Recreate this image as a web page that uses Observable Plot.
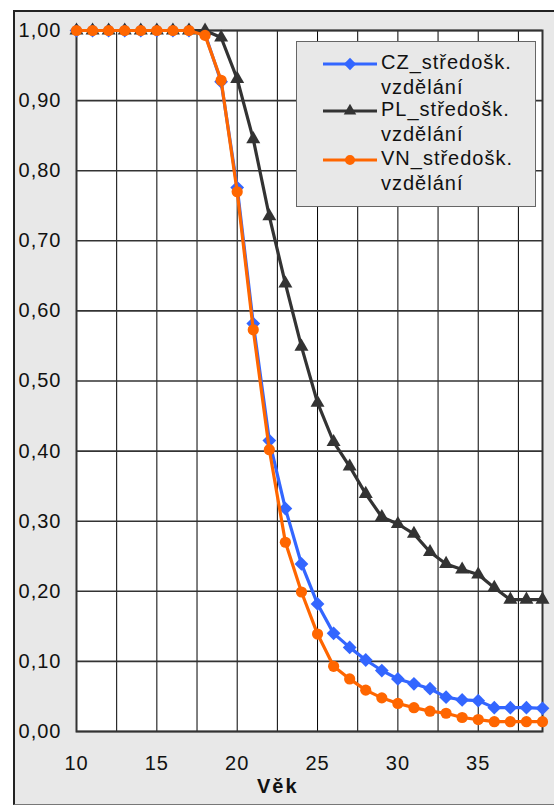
<!DOCTYPE html>
<html>
<head>
<meta charset="utf-8">
<script src="https://cdn.jsdelivr.net/npm/d3@7"></script>
<script src="https://cdn.jsdelivr.net/npm/@observablehq/plot@0.6"></script>
<style>
  html, body { margin: 0; padding: 0; background: #ffffff; width: 554px; height: 808px; overflow: hidden; }
  body { position: relative; font-family: "Liberation Sans", Arial, sans-serif; }
  #outer { position: absolute; left: 13px; top: 10px; width: 560px; height: 795px;
           background: #e8e8e8; border-left: 2px solid #222; border-top: 2px solid #222; border-bottom: 1px solid #777; box-sizing: border-box; }
  #chart { position: absolute; left: 0; top: 0; }
  #xtitle { position: absolute; left: 257px; top: 775px; font-weight: bold; font-size: 20px; color: #111; letter-spacing: 2px; }
  #legend { position: absolute; left: 296px; top: 41px; width: 240px; height: 166px; box-sizing: border-box;
            background: #e8e8e8; border: 1px solid #666; }
  .entry { position: absolute; left: 0; width: 240px; font-size: 20px; color: #111; line-height: 25px; letter-spacing: 1px; }
  .entry svg { position: absolute; left: 26px; top: 6.5px; }
  .entry .txt { position: absolute; left: 84px; top: 0; white-space: nowrap; }
</style>
</head>
<body>
<div id="outer"></div>
<div id="chart"></div>
<div id="xtitle">Věk</div>
<div id="legend"></div>
<script>
// Data
const ages = [10,11,12,13,14,15,16,17,18,19,20,21,22,23,24,25,26,27,28,29,30,31,32,33,34,35,36,37,38,39];
const cz = [1,1,1,1,1,1,1,1,0.995,0.927,0.776,0.582,0.415,0.318,0.239,0.182,0.14,0.12,0.102,0.087,0.075,0.068,0.061,0.049,0.045,0.044,0.034,0.034,0.034,0.033];
const pl = [1,1,1,1,1,1,1,1,1.0,0.99,0.931,0.845,0.735,0.639,0.549,0.469,0.413,0.378,0.339,0.306,0.296,0.282,0.256,0.239,0.231,0.224,0.205,0.188,0.188,0.188];
const vn = [1,1,1,1,1,1,1,1,0.993,0.929,0.77,0.573,0.402,0.27,0.199,0.139,0.093,0.075,0.059,0.048,0.04,0.034,0.029,0.026,0.02,0.017,0.014,0.014,0.014,0.014];
const seriesNames = ["CZ_středošk. vzdělání", "PL_středošk. vzdělání", "VN_středošk. vzdělání"];
const seriesLabels = [["CZ_středošk.", "vzdělání"], ["PL_středošk.", "vzdělání"], ["VN_středošk.", "vzdělání"]];
const colors = ["#3366ff", "#333333", "#ff6600"];
const symbols = ["diamond2", "triangle", "circle"];
const yTicks = [0,0.1,0.2,0.3,0.4,0.5,0.6,0.7,0.8,0.9,1.0];
const xTicks = [10,15,20,25,30,35];
const xGrid = [10,12.5,15,17.5,20,22.5,25,27.5,30,32.5,35,37.5];

const values = [cz, pl, vn];
const data = [];
values.forEach((arr, s) => arr.forEach((v, i) => data.push({age: ages[i], value: v, series: seriesNames[s]})));
const sizes = [6.2, 5.2, 5.6];

const marks = [
  Plot.frame({fill: "white", stroke: "none"}),
  Plot.ruleX(xGrid, {stroke: "#000", strokeWidth: 1}),
  Plot.ruleY(yTicks, {stroke: "#333", strokeWidth: 1.6}),
  Plot.frame({stroke: "#333", strokeWidth: 2}),
  Plot.axisY(yTicks, {tickSize: 0, tickPadding: 15, fontSize: 20, tickFormat: d => d.toFixed(2).replace(".", ","), label: null}),
  Plot.axisX(xTicks, {tickSize: 0, tickPadding: 24, fontSize: 20, label: null})
];
seriesNames.forEach((name, s) => {
  const d = data.filter(r => r.series === name);
  marks.push(Plot.line(d, {x: "age", y: "value", stroke: colors[s], strokeWidth: 3.2}));
  marks.push(Plot.dot(d, {x: "age", y: "value", fill: colors[s], symbol: symbols[s], r: sizes[s], stroke: "none"}));
});

const chart = Plot.plot({
  width: 554, height: 808,
  marginLeft: 76, marginRight: 12, marginTop: 30, marginBottom: 77,
  x: {domain: [10, 39]},
  y: {domain: [0, 1]},
  style: {background: "transparent", fontFamily: "'Liberation Sans', Arial, sans-serif", color: "#111", letterSpacing: "1px"},
  marks
});
document.getElementById("chart").appendChild(chart);

// Legend
const legend = document.getElementById("legend");
const tops = [8, 55, 104];
seriesLabels.forEach((lines, s) => {
  const e = document.createElement("div");
  e.className = "entry";
  e.style.top = tops[s] + "px";
  const sym = d3.symbol(s === 0 ? d3.symbolDiamond2 : s === 1 ? d3.symbolTriangle : d3.symbolCircle, Math.PI * sizes[s] * sizes[s] * 0.8)();
  e.innerHTML = `<svg width="56" height="14" viewBox="0 -7 56 14"><line x1="0" x2="54" y1="0" y2="0" stroke="${colors[s]}" stroke-width="3"/><path transform="translate(27,0)" d="${sym}" fill="${colors[s]}"/></svg>` +
    `<div class="txt">${lines[0]}<br>${lines[1]}</div>`;
  legend.appendChild(e);
});
</script>
</body>
</html>
